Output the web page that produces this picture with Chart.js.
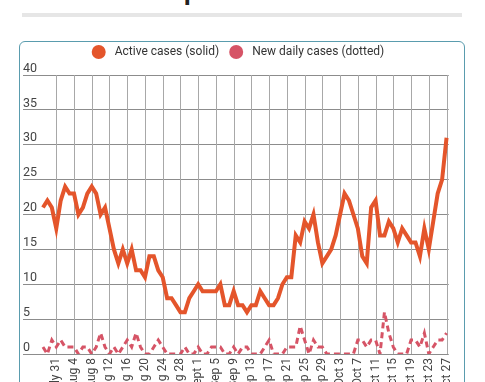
<!DOCTYPE html>
<html><head><meta charset="utf-8">
<script src="https://cdn.jsdelivr.net/npm/chart.js@4.4.1/dist/chart.umd.min.js"></script>
<style>
html,body{margin:0;padding:0;background:#fff;overflow:hidden;width:485px;height:382px;}
#title{position:absolute;top:-22px;left:100px;font:bold 26px Roboto, sans-serif;line-height:26px;color:#222;white-space:nowrap;margin:0}
#rule{position:absolute;left:22px;top:13px;width:440px;height:4px;background:#e6e6e6}
#box{position:absolute;left:19px;top:41px;width:444px;height:400px;border:1px solid #5a9cae;border-radius:6px}
#c{position:absolute;left:20px;top:36px}
</style></head><body>
<h1 id="title">COVID-19 cases spike</h1>
<div id="rule"></div>
<div id="box"></div>
<canvas id="c" width="445" height="364"></canvas>
<script>
const categories = [
  "Jul 24","Jul 25","Jul 26","Jul 27","Jul 28","Jul 29","Jul 30","July 31",
  "Aug 1","Aug 2","Aug 3","Aug 4","Aug 5","Aug 6","Aug 7","Aug 8","Aug 9","Aug 10",
  "Aug 11","Aug 12","Aug 13","Aug 14","Aug 15","Aug 16","Aug 17","Aug 18","Aug 19","Aug 20",
  "Aug 21","Aug 22","Aug 23","Aug 24","Aug 25","Aug 26","Aug 27","Aug 28","Aug 29","Aug 30","Aug 31",
  "Sept 1","Sep 2","Sep 3","Sep 4","Sep 5","Sep 6","Sep 7","Sep 8","Sep 9","Sep 10",
  "Sep 11","Sep 12","Sep 13","Sep 14","Sep 15","Sep 16","Sep 17","Sep 18","Sep 19","Sep 20",
  "Sep 21","Sep 22","Sep 23","Sep 24","Sep 25","Sep 26","Sep 27","Sep 28","Sep 29","Sep 30",
  "Oct 1","Oct 2","Oct 3","Oct 4","Oct 5","Oct 6","Oct 7","Oct 8","Oct 9","Oct 10",
  "Oct 11","Oct 12","Oct 13","Oct 14","Oct 15","Oct 16","Oct 17","Oct 18","Oct 19","Oct 20",
  "Oct 21","Oct 22","Oct 23","Oct 24","Oct 25","Oct 26","Oct 27"
];
const activeCases = [
  null,null,null,null, 21,22,21,18,
  22,24,23,23,20,21,23,24,23,20, 21,18,15,13,15,13,15,12,12,11, 14,14,12,11,8,8,7,6,6,8,9,
  10,9,9,9,9,10,7,7,9,7, 7,6,7,7,9,8,7,7,8,10, 11,11,17,16,19,18,20,16,13,14,
  15,17,20,23,22,20,18,14,13,21, 22,17,17,19,18,16,18,17,16,16, 14,18,15,19,23,25,31
];
const newDailyCases = [
  null,null,null,null, 1,0,2,1,
  2,1,1,1,0,1,1,0,1,3, 1,0,1,0,1,2,1,3,1,0, 0,1,2,1,0,0,0,0,1,0,0,
  1,0,0,1,1,1,0,0,1,0, 1,1,0,0,0,1,2,0,0,0, 1,1,1,4,2,0,2,1,1,0,
  0,0,0,0,0,0,2,2,1,2, 2,0,6,3,1,0,0,0,2,2, 1,3,0,1,2,2,3
];
const seriesNames = ["Active cases (solid)", "New daily cases (dotted)"];
const firstTickLabel = "July 31";
const tickEvery = 4;

(function(){
  const t = document.getElementById('title');
  const ctx = document.createElement('canvas').getContext('2d');
  ctx.font = 'bold 26px Roboto';
  const pre = ctx.measureText('COVID-19 cases s').width;
  t.style.left = (186 - pre - 2) + 'px';
})();

Chart.defaults.font.family = 'Roboto, sans-serif';
Chart.defaults.font.size = 12;
Chart.defaults.color = '#444';

const firstTickIdx = categories.indexOf(firstTickLabel);
const isShownTick = i => { const d = i - firstTickIdx; return d >= 0 && d % tickEvery === 0; };

const legendSpacer = {
  id: 'legendSpacer',
  beforeInit(chart) {
    const lg = chart.legend;
    const orig = lg.fit;
    lg.fit = function() { orig.call(this); this.height += 7; };
  }
};

// vertical grid lines only at the labelled dates, placed by the x scale
const dateGrid = {
  id: 'dateGrid',
  beforeDatasetsDraw(chart) {
    const { ctx, chartArea, scales } = chart;
    ctx.save();
    ctx.strokeStyle = '#a8a8a8';
    ctx.lineWidth = 1;
    categories.forEach((c, i) => {
      if (!isShownTick(i)) return;
      const x = Math.round(scales.x.getPixelForValue(i)) + 0.5;
      ctx.beginPath();
      ctx.moveTo(x, chartArea.top);
      ctx.lineTo(x, chartArea.bottom);
      ctx.stroke();
    });
    ctx.restore();
  }
};

new Chart(document.getElementById('c'), {
  type: 'line',
  data: {
    labels: categories,
    datasets: [
      { label: seriesNames[0], data: activeCases, borderColor: '#E4552B', backgroundColor: '#E4552B',
        borderWidth: 4, pointRadius: 0, tension: 0, fill: false },
      { label: seriesNames[1], data: newDailyCases, borderColor: '#D65466', backgroundColor: '#D65466',
        borderWidth: 3, borderDash: [6, 4], pointRadius: 0, tension: 0, fill: false }
    ]
  },
  plugins: [legendSpacer, dateGrid],
  options: {
    responsive: false,
    animation: false,
    events: [],
    layout: { padding: { left: 3, right: 12, top: 0, bottom: 0 } },
    plugins: {
      tooltip: { enabled: false },
      legend: {
        labels: {
          usePointStyle: true, boxHeight: 10, boxWidth: 10, pointStyleWidth: 14, padding: 10,
          color: '#333', font: { size: 12 },
          generateLabels(chart) {
            const items = Chart.defaults.plugins.legend.labels.generateLabels(chart);
            items.forEach(i => { i.text = ' ' + i.text; i.lineWidth = 0; i.lineDash = []; i.pointStyle = 'circle'; });
            return items;
          }
        }
      }
    },
    scales: {
      x: {
        offset: true,
        afterBuildTicks(scale) {
          scale.ticks = scale.ticks.filter(t => isShownTick(t.value));
        },
        grid: { display: false, drawTicks: false },
        border: { display: false },
        ticks: {
          autoSkip: false, maxRotation: 90, minRotation: 90, padding: 4, color: '#444'
        },
        afterFit(s) { s.height = 46; }
      },
      y: {
        min: 0, max: 40,
        grid: { color: '#8c8c8c', drawTicks: false },
        border: { display: false },
        ticks: { stepSize: 5, mirror: true, padding: 0, labelOffset: -6.5, color: '#444', font: { size: 12.5 } }
      }
    }
  }
});
</script>
</body></html>
